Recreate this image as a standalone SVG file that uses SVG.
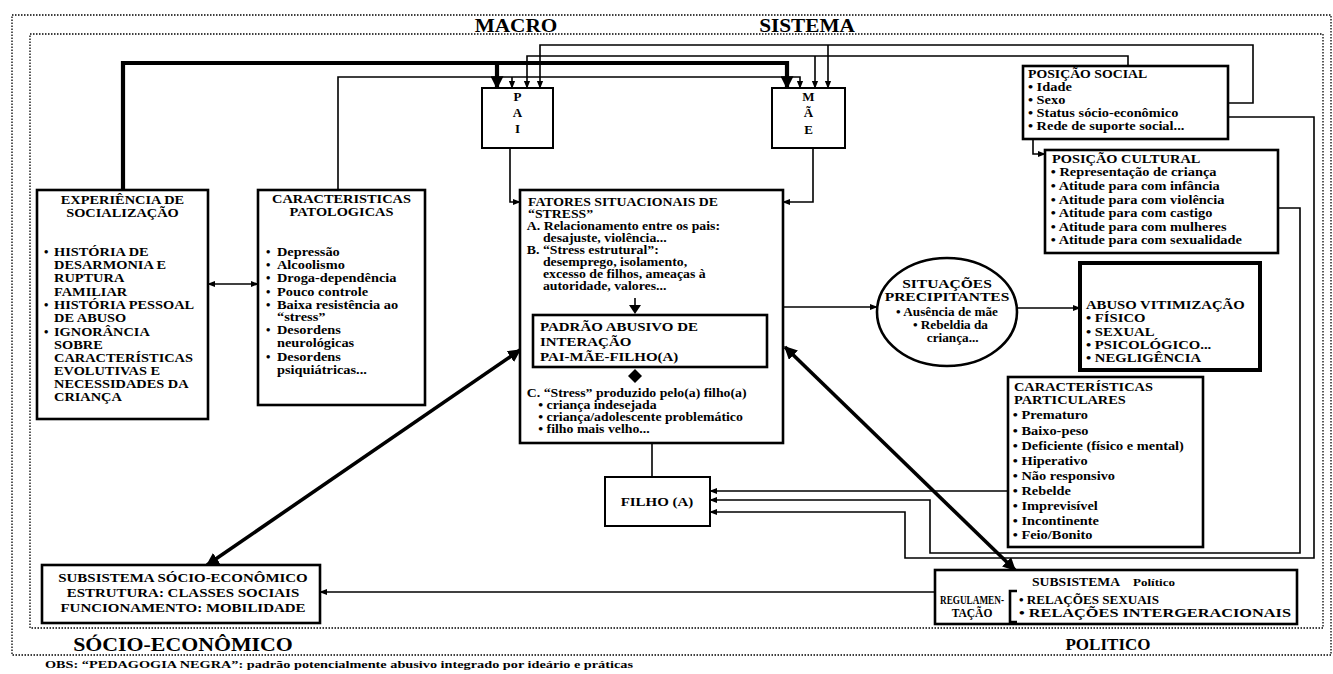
<svg xmlns="http://www.w3.org/2000/svg" width="1333" height="674" viewBox="0 0 1333 674">
<style>
.frame{fill:none;stroke:#000;stroke-width:1.3;stroke-dasharray:1.5 1.5}
.box{fill:#fff;stroke:#000;stroke-width:2.6}
.boxh{fill:#fff;stroke:#000;stroke-width:4}
.boxt{fill:#fff;stroke:#000;stroke-width:2}
.ln{fill:none;stroke:#000;stroke-width:1.6}
.thk{fill:none;stroke:#000;stroke-width:4.2}
.dg{fill:none;stroke:#000;stroke-width:3.6}
text{font-family:"Liberation Serif","Times New Roman",serif;font-weight:bold;font-size:12.5px;fill:#000}
.c{text-anchor:middle}
.s12{font-size:12px}
.s13{font-size:13px}
.big{font-size:18.5px}
</style>
<defs>
<marker id="a" viewBox="0 0 10 10" refX="9" refY="5" markerWidth="8" markerHeight="8" markerUnits="userSpaceOnUse" orient="auto-start-reverse"><path d="M0,1 L10,5 L0,9 z"/></marker>
<marker id="b" viewBox="0 0 10 10" refX="9" refY="5" markerWidth="13" markerHeight="13" markerUnits="userSpaceOnUse" orient="auto-start-reverse"><path d="M0,0 L10,5 L0,10 z"/></marker>
</defs>
<rect width="1333" height="674" fill="#fff"/>

<g id="frames">
<rect class="frame" x="12" y="15" width="1319" height="640"/>
<rect class="frame" x="30" y="34" width="1293" height="594"/>
</g>

<g id="labels">
<text class="c big" x="516" y="32" transform="matrix(1.15 0 0 1 -77.4 0)">MACRO</text>
<text class="c big" x="807" y="32" transform="matrix(1.15 0 0 1 -121.05 0)">SISTEMA</text>
<text class="c" x="183" y="651" style="font-size:19px" transform="matrix(1.15 0 0 1 -27.45 0)">SÓCIO-ECONÔMICO</text>
<text class="c" x="1108" y="650" style="font-size:17px">POLITICO</text>
<text x="45" y="668" style="font-size:10.5px" textLength="588" lengthAdjust="spacingAndGlyphs">OBS: “PEDAGOGIA NEGRA”: padrão potencialmente abusivo integrado por ideário e práticas</text>
</g>

<g id="connectors">
<path class="thk" d="M123,190 V63 H787 V88" marker-end="url(#b)"/>
<path class="thk" d="M497,63 V88" marker-end="url(#b)"/>
<path class="ln" d="M338,190 V77 H800 V88" marker-end="url(#a)"/>
<path class="ln" d="M512,77 V88" marker-end="url(#a)"/>
<path class="ln" d="M1128,66 V56 H527 V88" marker-end="url(#a)"/>
<path class="ln" d="M815,56 V88" marker-end="url(#a)"/>
<path class="ln" d="M1228,103 H1253 V45 H540 V88" marker-end="url(#a)"/>
<path class="ln" d="M828,45 V88" marker-end="url(#a)"/>
<path class="ln" d="M1228,117 H1314 V558 H905 V512 H710" marker-end="url(#a)"/>
<path class="ln" d="M1278,208 H1300 V553 H930 V500 H710" marker-end="url(#a)"/>
<path class="ln" d="M1008,491 H710" marker-end="url(#a)"/>
<path class="ln" d="M1033,139 V154 H1045" marker-end="url(#a)"/>
<path class="ln" d="M510,148 V202 H520" marker-end="url(#a)"/>
<path class="ln" d="M813,148 V202 H783" marker-end="url(#a)"/>
<path class="ln" d="M208,284 H258" marker-start="url(#a)" marker-end="url(#a)"/>
<path class="ln" d="M783,307 H877" marker-end="url(#a)"/>
<path class="ln" d="M1017,308 H1080" marker-end="url(#a)"/>
<path class="dg" d="M520,350 L207,565" marker-start="url(#b)" marker-end="url(#b)"/>
<path class="dg" d="M785,347 L1015,570" marker-start="url(#b)" marker-end="url(#b)"/>
<path class="ln" d="M652,443 V477"/>
<path class="ln" d="M935,592 H320" marker-end="url(#a)"/>
</g>

<g id="experiencia">
<rect class="box" x="37" y="190" width="171" height="229"/>
<g transform="matrix(1.15 0 0 1 -18.375 0)">
<text class="c" x="122.5" y="204">EXPERIÊNCIA DE</text>
<text class="c" x="122.5" y="217">SOCIALIZAÇÃO</text>
</g>
<text x="44" y="256">•</text><text x="44" y="309">•</text><text x="44" y="336">•</text>
<g transform="matrix(1.15 0 0 1 -8.1 0)">
<text x="54" y="256">HISTÓRIA DE</text>
<text x="54" y="269">DESARMONIA E</text>
<text x="54" y="282">RUPTURA</text>
<text x="54" y="296">FAMILIAR</text>
<text x="54" y="309">HISTÓRIA PESSOAL</text>
<text x="54" y="322">DE ABUSO</text>
<text x="54" y="336">IGNORÂNCIA</text>
<text x="54" y="349">SOBRE</text>
<text x="54" y="362">CARACTERÍSTICAS</text>
<text x="54" y="375">EVOLUTIVAS E</text>
<text x="54" y="388">NECESSIDADES DA</text>
<text x="54" y="401">CRIANÇA</text>
</g>
</g>

<g id="patologicas">
<rect class="box" x="258" y="190" width="167" height="215"/>
<g transform="matrix(1.15 0 0 1 -51.225 0)">
<text class="c" x="341.5" y="203">CARACTERISTICAS</text>
<text class="c" x="341.5" y="216">PATOLOGICAS</text>
</g>
<text x="266" y="256">•</text><text x="266" y="269">•</text><text x="266" y="282">•</text><text x="266" y="296">•</text><text x="266" y="309">•</text><text x="266" y="334">•</text><text x="266" y="361">•</text>
<g transform="matrix(1.15 0 0 1 -41.55 0)">
<text x="277" y="256">Depressão</text>
<text x="277" y="269">Alcoolismo</text>
<text x="277" y="282">Droga-dependência</text>
<text x="277" y="296">Pouco controle</text>
<text x="277" y="309">Baixa resistência ao</text>
<text x="277" y="321">“stress”</text>
<text x="277" y="334">Desordens</text>
<text x="277" y="347">neurológicas</text>
<text x="277" y="361">Desordens</text>
<text x="277" y="374">psiquiátricas...</text>
</g>
</g>

<g id="pai">
<rect class="boxt" x="482" y="88" width="71" height="60"/>
<text class="c s13" x="517.5" y="101">P</text>
<text class="c s13" x="517.5" y="117">A</text>
<text class="c s13" x="517.5" y="133">I</text>
</g>

<g id="mae">
<rect class="boxt" x="772" y="88" width="73" height="60"/>
<text class="c s13" x="808.5" y="101">M</text>
<text class="c s13" x="808.5" y="117">Ã</text>
<text class="c s13" x="808.5" y="134">E</text>
</g>

<g id="fatores">
<rect class="box" x="520" y="190" width="263" height="253"/>
<g transform="matrix(1.15 0 0 1 -79.2 0)">
<text class="s12" x="528" y="206">FATORES SITUACIONAIS DE</text>
<text class="s12" x="528" y="218">“STRESS”</text>
<text class="s12" x="527" y="230">A. Relacionamento entre os pais:</text>
<text class="s12" x="541" y="242">desajuste, violência...</text>
<text class="s12" x="527" y="254">B. “Stress estrutural”:</text>
<text class="s12" x="541" y="266">desemprego, isolamento,</text>
<text class="s12" x="541" y="278">excesso de filhos, ameaças à</text>
<text class="s12" x="541" y="290">autoridade, valores...</text>
<text class="s12" x="527" y="397">C. “Stress” produzido pelo(a) filho(a)</text>
<text class="s12" x="537" y="409">• criança indesejada</text>
<text class="s12" x="537" y="421">• criança/adolescente problemático</text>
<text class="s12" x="537" y="433">• filho mais velho...</text>
</g>
<path class="ln" d="M635,298 V305"/>
<polygon points="629,305 641,305 635,314"/>
<polygon points="635,369 642,376 635,383 628,376"/>
</g>

<g id="padrao">
<rect class="box" x="533" y="315" width="234" height="52"/>
<g transform="matrix(1.15 0 0 1 -81 0)">
<text class="s13" x="540" y="331">PADRÃO ABUSIVO DE</text>
<text class="s13" x="540" y="346">INTERAÇÃO</text>
<text class="s13" x="540" y="361">PAI-MÃE-FILHO(A)</text>
</g>
</g>

<g id="filho">
<rect class="boxt" x="605" y="477" width="105" height="49"/>
<text class="c s13" x="657" y="506" transform="matrix(1.15 0 0 1 -98.55 0)">FILHO (A)</text>
</g>

<g id="situacoes">
<ellipse cx="947" cy="312" rx="70" ry="54" fill="#fff" stroke="#000" stroke-width="2.6"/>
<g transform="matrix(1.15 0 0 1 -142.05 0)">
<text class="c" x="947" y="288" style="font-size:13.5px">SITUAÇÕES</text>
<text class="c" x="947" y="301" style="font-size:13.5px">PRECIPITANTES</text>
<text class="c" x="947" y="316" style="font-size:11.5px">• Ausência de mãe</text>
<text class="c" x="950" y="329" style="font-size:11.5px">• Rebeldia da</text>
<text class="c" x="952" y="342" style="font-size:11.5px">criança...</text>
</g>
</g>

<g id="abuso">
<rect class="boxh" x="1080" y="263" width="180" height="107"/>
<g transform="matrix(1.15 0 0 1 -162.9 0)">
<text x="1086" y="309" style="font-size:12.8px">ABUSO VITIMIZAÇÃO</text>
<text x="1086" y="322" style="font-size:12.8px">• FÍSICO</text>
<text x="1086" y="336" style="font-size:12.8px">• SEXUAL</text>
<text x="1086" y="349" style="font-size:12.8px">• PSICOLÓGICO...</text>
<text x="1086" y="362" style="font-size:12.8px">• NEGLIGÊNCIA</text>
</g>
</g>

<g id="posicao-social">
<rect class="box" x="1023" y="66" width="205" height="73"/>
<g transform="matrix(1.15 0 0 1 -154.2 0)">
<text class="s12" x="1028" y="78">POSIÇÃO SOCIAL</text>
<text x="1028" y="91">• Idade</text>
<text x="1028" y="104">• Sexo</text>
<text x="1028" y="117">• Status sócio-econômico</text>
<text x="1028" y="130">• Rede de suporte social...</text>
</g>
</g>

<g id="posicao-cultural">
<rect class="box" x="1045" y="150" width="233" height="103"/>
<g transform="matrix(1.15 0 0 1 -157.8 0)">
<text x="1052" y="163">POSIÇÃO CULTURAL</text>
<text x="1051" y="176">• Representação de criança</text>
<text x="1051" y="190">• Atitude para com infância</text>
<text x="1051" y="204">• Atitude para com violência</text>
<text x="1051" y="217">• Atitude para com castigo</text>
<text x="1051" y="231">• Atitude para com mulheres</text>
<text x="1051" y="244">• Atitude para com sexualidade</text>
</g>
</g>

<g id="caracteristicas-particulares">
<rect class="box" x="1008" y="377" width="195" height="170"/>
<g transform="matrix(1.15 0 0 1 -152.1 0)">
<text x="1014" y="391">CARACTERÍSTICAS</text>
<text x="1014" y="404">PARTICULARES</text>
<text x="1013" y="419">• Prematuro</text>
<text x="1013" y="435">• Baixo-peso</text>
<text x="1013" y="450">• Deficiente (físico e mental)</text>
<text x="1013" y="465">• Hiperativo</text>
<text x="1013" y="480">• Não responsivo</text>
<text x="1013" y="495">• Rebelde</text>
<text x="1013" y="510">• Imprevisível</text>
<text x="1013" y="525">• Incontinente</text>
<text x="1013" y="539">• Feio/Bonito</text>
</g>
</g>

<g id="subsistema-socioeconomico">
<rect class="box" x="42" y="565" width="278" height="58"/>
<g transform="matrix(1.15 0 0 1 -27.45 0)">
<text class="c s13" x="183" y="582">SUBSISTEMA SÓCIO-ECONÔMICO</text>
<text class="c s13" x="183" y="597">ESTRUTURA: CLASSES SOCIAIS</text>
<text class="c s13" x="183" y="612">FUNCIONAMENTO: MOBILIDADE</text>
</g>
</g>

<g id="subsistema-politico">
<rect class="box" x="935" y="570" width="362" height="54"/>
<text x="1032" y="586" style="font-size:12px" textLength="88" lengthAdjust="spacingAndGlyphs">SUBSISTEMA</text>
<text x="1133" y="586" style="font-size:11px" textLength="42" lengthAdjust="spacingAndGlyphs">Político</text>
<text x="940" y="604" style="font-size:11.5px" textLength="64" lengthAdjust="spacingAndGlyphs">REGULAMEN-</text>
<text class="c" x="972" y="617" style="font-size:11.5px">TAÇÃO</text>
<path d="M1017,591 H1010 V622 H1017" fill="none" stroke="#000" stroke-width="2.6"/>
<text x="1019" y="604" style="font-size:11.5px" textLength="140" lengthAdjust="spacingAndGlyphs">• RELAÇÕES SEXUAIS</text>
<text x="1019" y="617" style="font-size:11.5px" textLength="272" lengthAdjust="spacingAndGlyphs">• RELAÇÕES INTERGERACIONAIS</text>
</g>
</svg>
